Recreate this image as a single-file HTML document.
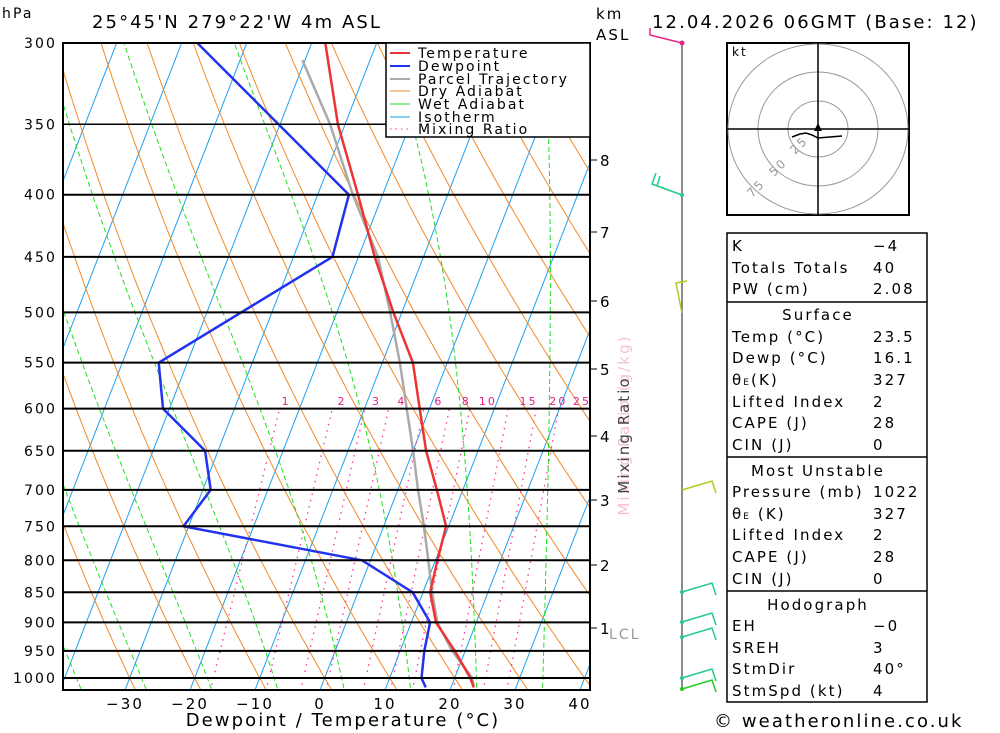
<!DOCTYPE html>
<html><head><meta charset="utf-8"><style>
body{margin:0;background:#fff;}
svg{display:block;font-family:"DejaVu Sans","Liberation Sans",sans-serif;letter-spacing:0.13em;}
</style></head><body>
<svg id="c" width="1000" height="733" viewBox="0 0 1000 733" xmlns="http://www.w3.org/2000/svg">
<defs><clipPath id="pc"><rect x="63" y="43" width="527" height="647"/></clipPath></defs>
<g id="grid" clip-path="url(#pc)"></g>
<g id="prof" clip-path="url(#pc)"></g>
<g id="axes"></g>
</svg>
<script>
const presLevels=[300,350,400,450,500,550,600,650,700,750,800,850,900,950,1000];
const tempP=[300,350,400,450,500,550,600,650,700,750,800,850,900,950,1000,1018];
const tempT=[-37.9,-31.1,-23.8,-17.5,-11.3,-5.3,-1.5,2,6,9.6,10.3,11.1,13.8,18.4,22.4,23.5];
const dewP=[300,400,450,550,600,650,700,750,800,850,900,950,1000,1018];
const dewT=[-57.6,-25.2,-24,-44.4,-41,-32,-28.8,-30.8,-1.3,8.4,12.9,13.7,14.9,16.1];
const parP=[310,350,400,450,500,550,600,650,700,750,800,850,900,950,1000,1018];
const parT=[-40.4,-32.3,-24.6,-17,-11.8,-7.3,-3.5,0,3.1,6.2,8.9,11.4,14,18,22.7,23.5];
const xTicks=[-30,-20,-10,0,10,20,30,40];
const mixR=[1,2,3,4,6,8,10,15,20,25];
const kmLabels=["8","7","6","5","4","3","2","1"];
const kmY=[160,232,301,369,436,500,565,628];

const NS="http://www.w3.org/2000/svg";
function Y(p){return 43+527.4*Math.log(p/300);}
function X(T,p){return 320+6.5*T+0.389*(690-Y(p));}
function mk(tag,attrs,parent){const e=document.createElementNS(NS,tag);for(const k in attrs)e.setAttribute(k,attrs[k]);parent.appendChild(e);return e;}
const grid=document.getElementById('grid'),prof=document.getElementById('prof'),axes=document.getElementById('axes');
function poly(pts,attrs,parent){return mk('polyline',Object.assign({points:pts.map(a=>a[0].toFixed(1)+','+a[1].toFixed(1)).join(' '),fill:'none'},attrs),parent);}
for(let T=-120;T<=40;T+=10){
  const l=mk('line',{x1:X(T,1050),y1:Y(1050),x2:X(T,290),y2:Y(290),stroke:'#1ea0f0','stroke-width':1},grid);
  
  
}
for(let th=-30;th<=200;th+=10){
  const pts=[];for(let p=1050;p>=290;p-=10){const T=(th+273.15)*Math.pow(p/1000,0.2857)-273.15;pts.push([X(T,p),Y(p)]);}
  const e=poly(pts,{stroke:'#f08a28','stroke-width':1},grid);
  
  
}
function es(Tc){return 6.112*Math.exp(17.67*Tc/(Tc+243.5));}
for(let tw=-35;tw<=45;tw+=10){
  let T=tw+273.15;const pts=[];
  for(let p=1050;p>=290;p-=2){
    const Tc=T-273.15;pts.push([X(Tc,p),Y(p)]);
    const e=es(Tc),rs=0.622*e/(p-e);
    const d=(287*T+2.5e6*rs)/(1004+2.5e6*2.5e6*rs*0.622/(287*T*T))/p;
    T-=d*2;
  }
  const e=poly(pts,{stroke:'#22dd22','stroke-width':1,'stroke-dasharray':'5,3'},grid);
  
  
}
function tdw(w,p){const e=w/1000*p/(0.622+w/1000);const l=Math.log(e/6.112);return 243.5*l/(17.67-l);}
mixR.forEach(w=>{
  const e=mk('line',{x1:X(tdw(w,1050),1050),y1:Y(1050),x2:X(tdw(w,600),600),y2:Y(600),stroke:'#ff3399','stroke-width':1.3,'stroke-dasharray':'1.5,5'},grid);
  
  
  const cx=X(tdw(w,600),600);
  const t=mk('text',{x:cx+6+0.06*(cx-270),y:405,'font-size':11,fill:'#e0208a','text-anchor':'middle'},axes);t.textContent=w;
  
  
});
presLevels.forEach(p=>{
  const l=mk('line',{x1:63,x2:590,y1:Y(p),y2:Y(p),stroke:'#000','stroke-width':p==350?1.5:2},axes);
  
  
  const t=mk('text',{x:57,y:Y(p)+5,'font-size':14,'text-anchor':'end',fill:'#000'},axes);t.textContent=p;
  
  
});
function profLine(P,T,col,w,name){const e=poly(P.map((p,i)=>[X(T[i],p),Math.min(Y(p),688)]),{stroke:col,'stroke-width':w,'stroke-linejoin':'round'},prof);
  
  }
profLine(parP,parT,'#aaaaaa',2.5,'parcel-trajectory');
profLine(dewP,dewT,'#2233ee',2.5,'dewpoint-line');
profLine(tempP,tempT,'#ee3333',2.5,'temperature-line');
const fr=mk('rect',{x:63,y:43,width:527,height:647,fill:'none',stroke:'#000','stroke-width':2},axes);


xTicks.forEach(T=>{const t=mk('text',{x:320+6.5*T,y:709,'font-size':15,'text-anchor':'middle'},axes);t.textContent=(T<0?'\u2212'+(-T):T);
  
  });
kmLabels.forEach((k,i)=>{mk('line',{x1:590,x2:597,y1:kmY[i],y2:kmY[i],stroke:'#000'},axes);
  const t=mk('text',{x:600,y:kmY[i]+6,'font-size':15},axes);t.textContent=k;
  
  });
</script>
<svg x="0" y="0" width="1000" height="733" style="position:absolute;left:0;top:0" xmlns="http://www.w3.org/2000/svg">
<text x="2" y="18" font-size="14">hPa</text>
<text x="92" y="28" font-size="18">25°45'N 279°22'W 4m ASL</text>
<text x="596" y="19" font-size="15">km</text>
<text x="596" y="40" font-size="15">ASL</text>
<text x="652" y="28" font-size="18">12.04.2026 06GMT (Base: 12)</text>
<text x="343" y="726" font-size="18" text-anchor="middle">Dewpoint / Temperature (°C)</text>
<text x="609" y="639" font-size="14" fill="#999">LCL</text>
<text transform="translate(629,425) rotate(-90)" font-size="15" text-anchor="middle" fill="#f4c0da">Mixing Ratio (g/kg)</text>
<text transform="translate(629,435) rotate(-90)" font-size="15" text-anchor="middle" fill="#444">Mixing Ratio</text>
<g>
<rect x="386" y="43" width="204" height="94" fill="#fff" stroke="#000" stroke-width="1.5"/>
<g font-size="14" fill="#000">
<line x1="390" x2="410" y1="53" y2="53" stroke="#ee3333" stroke-width="2"/><text x="418" y="58">Temperature</text>
<line x1="390" x2="410" y1="66" y2="66" stroke="#2233ee" stroke-width="2"/><text x="418" y="71">Dewpoint</text>
<line x1="390" x2="410" y1="79" y2="79" stroke="#aaa" stroke-width="2"/><text x="418" y="84">Parcel Trajectory</text>
<line x1="390" x2="410" y1="91" y2="91" stroke="#f08a28"/><text x="418" y="96">Dry Adiabat</text>
<line x1="390" x2="410" y1="104" y2="104" stroke="#22dd22"/><text x="418" y="109">Wet Adiabat</text>
<line x1="390" x2="410" y1="117" y2="117" stroke="#1ea0f0"/><text x="418" y="122">Isotherm</text>
<line x1="390" x2="410" y1="129" y2="129" stroke="#ff3399" stroke-dasharray="1.5,4"/><text x="418" y="134">Mixing Ratio</text>
</g></g>
<g>
<line x1="682" y1="43" x2="682" y2="690" stroke="#666" stroke-width="1.5"/>
<polyline points="682,43 650,35 650,28" fill="none" stroke="#ee2288" stroke-width="1.5"/><circle cx="682" cy="43" r="2.5" fill="#ee2288"/>
<polyline points="682,195 652,184 656,173" fill="none" stroke="#22cc88" stroke-width="1.5"/><line x1="657" y1="186" x2="660" y2="176" stroke="#22cc88" stroke-width="1.5"/><circle cx="682" cy="195" r="2" fill="#22cc88"/>
<polyline points="682,313 676,283 687,281" fill="none" stroke="#aacc22" stroke-width="1.5"/>
<polyline points="682,490 712,481 716,493" fill="none" stroke="#aacc22" stroke-width="1.5"/>
<polyline points="682,592 712,583 716,595" fill="none" stroke="#22cc88" stroke-width="1.5"/><circle cx="682" cy="592" r="2" fill="#22cc88"/>
<polyline points="682,622 712,613 716,625" fill="none" stroke="#22cc88" stroke-width="1.5"/><circle cx="682" cy="622" r="2" fill="#22cc88"/>
<polyline points="682,637 712,628 716,640" fill="none" stroke="#22cc88" stroke-width="1.5"/><circle cx="682" cy="637" r="2" fill="#22cc88"/>
<polyline points="682,678 712,669 716,681" fill="none" stroke="#22cc88" stroke-width="1.5"/><circle cx="682" cy="678" r="2" fill="#22cc88"/>
<polyline points="682,689 712,680 716,692" fill="none" stroke="#22cc22" stroke-width="1.5"/><circle cx="682" cy="689" r="2" fill="#22cc22"/>
</g>
<g>
<rect x="727" y="43" width="182" height="172" fill="#fff" stroke="#000" stroke-width="2"/>
<ellipse cx="818" cy="129" rx="30" ry="28" fill="none" stroke="#999"/>
<ellipse cx="818" cy="129" rx="60" ry="57" fill="none" stroke="#999"/>
<ellipse cx="818" cy="129" rx="90" ry="85" fill="none" stroke="#999"/>
<line x1="727" x2="909" y1="129" y2="129" stroke="#000" stroke-width="1.5"/>
<line x1="818" x2="818" y1="43" y2="215" stroke="#000" stroke-width="1.5"/>
<text x="732" y="56" font-size="12">kt</text>
<text transform="translate(795,155) rotate(-45)" font-size="12" fill="#999">25</text>
<text transform="translate(774,177) rotate(-45)" font-size="12" fill="#999">50</text>
<text transform="translate(752,198) rotate(-45)" font-size="12" fill="#999">75</text>
<polyline points="792,137 800,134 806,133 812,135 818,138 842,136" fill="none" stroke="#000" stroke-width="1.5"/>
<polygon points="818,123 814,131 822,131" fill="#000"/>
</g>
<g font-size="15">
<rect x="727" y="233" width="200" height="469" fill="#fff" stroke="#000" stroke-width="1.5"/>
<line x1="727" x2="927" y1="302" y2="302" stroke="#000" stroke-width="1.5"/>
<line x1="727" x2="927" y1="457" y2="457" stroke="#000" stroke-width="1.5"/>
<line x1="727" x2="927" y1="591" y2="591" stroke="#000" stroke-width="1.5"/>
<text x="732" y="251">K</text><text x="873" y="251">−4</text>
<text x="732" y="273">Totals Totals</text><text x="873" y="273">40</text>
<text x="732" y="294">PW (cm)</text><text x="873" y="294">2.08</text>
<text x="818" y="320" text-anchor="middle">Surface</text>
<text x="732" y="342">Temp (°C)</text><text x="873" y="342">23.5</text>
<text x="732" y="363">Dewp (°C)</text><text x="873" y="363">16.1</text>
<text x="732" y="385">θ<tspan font-size="9">E</tspan>(K)</text><text x="873" y="385">327</text>
<text x="732" y="407">Lifted Index</text><text x="873" y="407">2</text>
<text x="732" y="428">CAPE (J)</text><text x="873" y="428">28</text>
<text x="732" y="450">CIN (J)</text><text x="873" y="450">0</text>
<text x="818" y="476" text-anchor="middle">Most Unstable</text>
<text x="732" y="497">Pressure (mb)</text><text x="873" y="497">1022</text>
<text x="732" y="519">θ<tspan font-size="9">E</tspan> (K)</text><text x="873" y="519">327</text>
<text x="732" y="540">Lifted Index</text><text x="873" y="540">2</text>
<text x="732" y="562">CAPE (J)</text><text x="873" y="562">28</text>
<text x="732" y="584">CIN (J)</text><text x="873" y="584">0</text>
<text x="818" y="610" text-anchor="middle">Hodograph</text>
<text x="732" y="631">EH</text><text x="873" y="631">−0</text>
<text x="732" y="653">SREH</text><text x="873" y="653">3</text>
<text x="732" y="674">StmDir</text><text x="873" y="674">40°</text>
<text x="732" y="696">StmSpd (kt)</text><text x="873" y="696">4</text>
</g>
<text x="714" y="727" font-size="18">© weatheronline.co.uk</text>
</svg>
</body></html>
